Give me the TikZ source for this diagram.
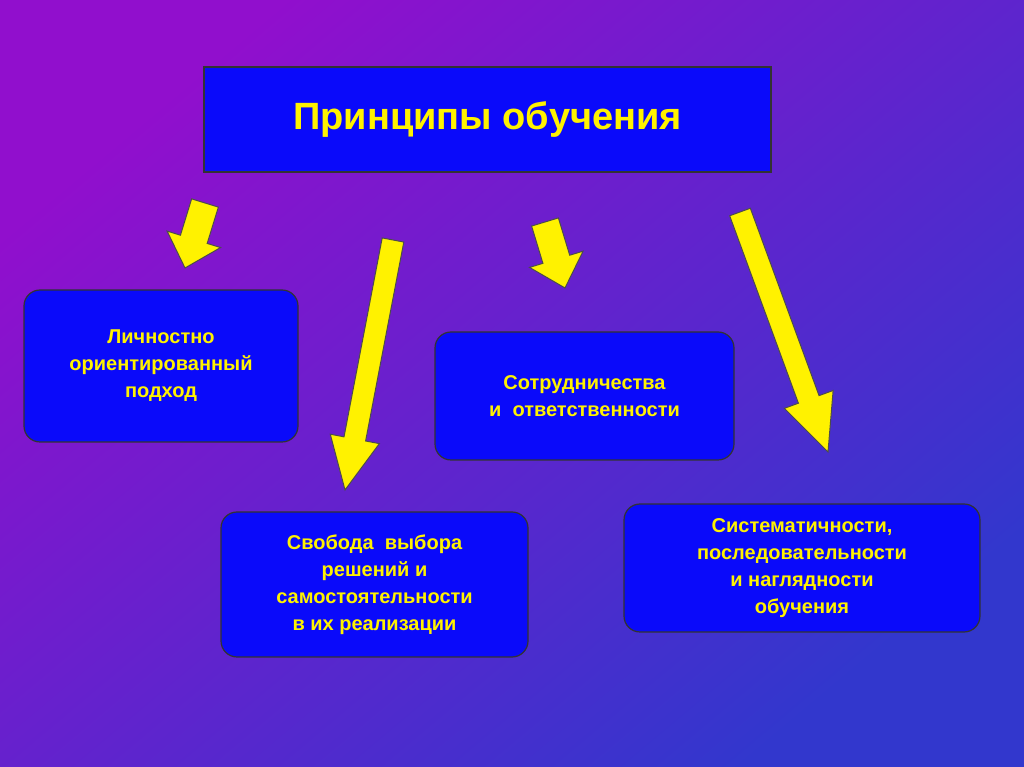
\documentclass[tikz,border=0pt]{standalone}
\usepackage{fontspec}
\setmainfont{Liberation Sans}
\definecolor{ul}{RGB}{145,15,205}
\definecolor{lr}{RGB}{50,55,205}
\definecolor{boxblue}{RGB}{10,10,250}
\begin{document}
\begin{tikzpicture}[x=1pt,y=1pt,
  box/.style={draw=black!80,line width=1.2pt,fill=boxblue,rounded corners=16pt,text=yellow,font=\bfseries\fontsize{20}{27}\selectfont,align=center,inner sep=0pt},
  arrowsty/.style={draw=black!70,line width=1pt,fill=yellow,line join=miter}]
\shade[top color=ul,bottom color=lr,shading angle=40] (0,0) rectangle (1024,767);
\useasboundingbox (0,0) rectangle (1024,767);
\newcommand\barrow[7]{%
\pgfmathsetmacro\ang{atan2(#4-#2,#3-#1)}%
\pgfmathsetmacro\len{veclen(#3-#1,#4-#2)}%
\begin{scope}[shift={(#1,#2)},rotate=\ang]
\draw[arrowsty] (0,-#5/2) -- (\len-#7,-#5/2) -- (\len-#7,-#6/2) -- (\len,0) -- (\len-#7,#6/2) -- (\len-#7,#5/2) -- (0,#5/2) -- cycle;
\end{scope}}
\node[draw=black!80,line width=1.2pt,fill=boxblue,minimum width=567pt,minimum height=105pt,text=yellow,font=\bfseries\fontsize{38}{44}\selectfont] (title) at (487.5,647.5) {Принципы обучения};
\node[box,minimum width=274pt,minimum height=152pt] (b1) at (161,401) {Личностно\\ориентированный\\подход};
\node[box,minimum width=299pt,minimum height=128pt] (b2) at (584.5,371) {Сотрудничества\\и\ \ ответственности};
\node[box,minimum width=307pt,minimum height=145pt] (b3) at (374.5,182.5) {Свобода\ \ выбора\\решений и\\самостоятельности\\в их реализации};
\node[box,minimum width=356pt,minimum height=128pt] (b4) at (802,199) {Систематичности,\\последовательности\\и наглядности\\обучения};
\barrow{205}{564}{185}{499}{28}{56}{30}
\barrow{393}{527}{345}{277}{22}{50}{52}
\barrow{545}{545}{565}{479}{28}{56}{30}
\barrow{740}{555}{828}{315}{22}{52}{56}
\end{tikzpicture}
\end{document}
